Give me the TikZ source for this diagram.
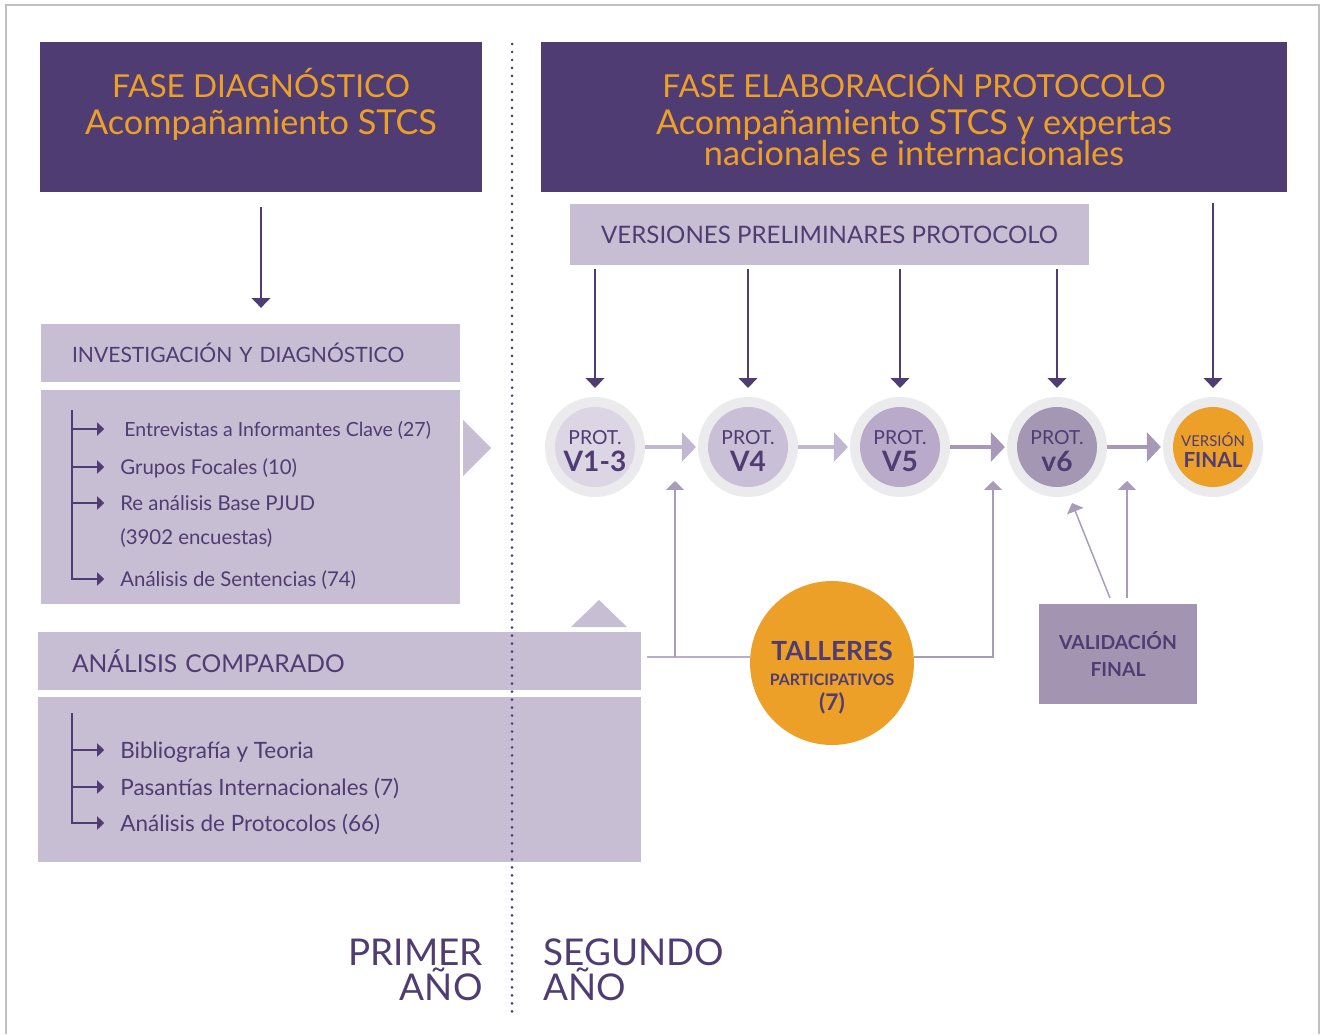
\documentclass[tikz,border=0pt]{standalone}
\usepackage{fontspec}
\setmainfont{Lato}
\usetikzlibrary{arrows.meta,positioning}

\definecolor{morado}{HTML}{4F3C72}
\definecolor{naranja}{HTML}{EDA028}
\definecolor{lila}{HTML}{C7BED3}
\definecolor{gris}{HTML}{EBEBEE}
\definecolor{lilaA}{HTML}{DCD5E3}
\definecolor{lilaB}{HTML}{C9BFD6}
\definecolor{lilaC}{HTML}{B8AAC8}
\definecolor{lilaD}{HTML}{A497B3}
\definecolor{valida}{HTML}{A395B2}
\definecolor{flechaA}{HTML}{C2B7D0}
\definecolor{flechaB}{HTML}{A798B8}
\definecolor{subida}{HTML}{A99CBB}
\definecolor{enlace}{HTML}{B9AECA}
\definecolor{marco}{HTML}{C0C0C0}

\tikzset{
  caja/.style={fill=lila, inner sep=0pt},
  cabecera/.style={fill=morado, inner sep=0pt, minimum height=3cm},
  titcab/.style={text=naranja, font=\fontsize{19.5}{20}\selectfont, anchor=base, inner sep=0pt},
  titulo/.style={text=morado, font=\fontsize{13.5}{15}\selectfont},
  itemA/.style={text=morado, font=\fontsize{11.6}{13}\selectfont, anchor=west, inner sep=0pt, text height=8.3pt, text depth=0pt},
  itemB/.style={text=morado, font=\fontsize{12.8}{13}\selectfont, anchor=west, inner sep=0pt, text height=9.2pt, text depth=0pt},
  rama/.style={morado, line width=0.8pt, -{Triangle[length=4pt,width=7.5pt]}, shorten >=9pt},
  baja/.style={morado, line width=0.85pt, -{Triangle[length=5.5pt,width=10.5pt]}},
  avance/.style={line width=2pt, -{Triangle[length=8pt,width=16.5pt]}, shorten >=1pt},
  sube/.style={subida, line width=0.85pt, -{Triangle[length=5pt,width=10pt]}},
  anillo/.style={circle, fill=gris, minimum size=2cm, inner sep=0pt},
  disco/.style={circle, minimum size=1.6cm, inner sep=0pt, text=morado, align=center, font=\fontsize{11}{15.4}\selectfont},
  anio/.style={text=morado, font=\fontsize{21}{21}\selectfont, inner sep=0pt},
}

\newcommand{\prot}[1]{\rule{0pt}{12.5pt}PROT.\\{\fontsize{16}{15.4}\selectfont\bfseries #1}}

\begin{document}
\begin{tikzpicture}[x=0.02cm, y=-0.02cm]
    \useasboundingbox (0,0) rectangle (1321,1034);
    \draw[marco, line width=1pt] (6,1034) -- (6,5) -- (1319,5) -- (1319,1034);

    % cabeceras
    \node[cabecera, minimum width=8.84cm] (hizq) at (261,117) {};
    \node[titcab, font=\fontsize{18}{20}\selectfont] (h1) at (261,97) {FASE DIAGNÓSTICO};
    \node[titcab] (h2) at (261,134) {Acompañamiento STCS};

    \node[cabecera, minimum width=14.92cm] (hder) at (914,117) {};
    \node[titcab, font=\fontsize{18}{20}\selectfont] (h3) at (914,97) {FASE ELABORACIÓN PROTOCOLO};
    \node[titcab] (h4) at (914,134) {Acompañamiento STCS y expertas};
    \node[titcab] (h5) at (914,165) {nacionales e internacionales};

    % primer año
    \node[caja, titulo, font=\fontsize{12}{15}\selectfont, minimum width=8.38cm, minimum height=1.16cm, text width=7.14cm, inner xsep=0.62cm, align=left] (inv) at (250.5,353) {INVESTIGACIÓN Y DIAGNÓSTICO};
    \node[caja, minimum width=8.38cm, minimum height=4.28cm] (lst1) at (250.5,497) {};
    \fill[lila] (463,420) -- (491,448) -- (463,476) -- cycle;

    \node[itemA, font=\fontsize{11.1}{13}\selectfont] (e1) at (124,429) {Entrevistas a Informantes Clave (27)};
    \node[itemA] (e2) at (120,467) {Grupos Focales (10)};
    \node[itemA] (e3) at (120,503) {Re análisis Base PJUD};
    \node[itemA] (e3b) at (120,537) {(3902 encuestas)};
    \node[itemA] (e4) at (120,579) {Análisis de Sentencias (74)};
    \coordinate (t1) at (72,410);
    \draw[rama] (t1) |- (e4.west);
    \foreach \e in {e2,e3}
        \draw[rama] (t1 |- \e.west) -- (\e.west);
    \draw[rama, shorten >=11.3pt] (t1 |- e1.west) -- (e1.west);

    \node[caja, titulo, font=\fontsize{14}{15}\selectfont, minimum width=12.06cm, minimum height=1.16cm, text width=10.7cm, inner xsep=0.68cm, align=left] (comp) at (339.5,661) {ANÁLISIS COMPARADO};
    \node[caja, minimum width=12.06cm, minimum height=3.3cm] (lst2) at (339.5,779.5) {};
    \fill[lila] (571,627) -- (599,600) -- (627,627) -- cycle;

    \node[itemB] (b1) at (120,750) {Bibliografía y Teoria};
    \node[itemB] (b2) at (120,787) {Pasantías Internacionales (7)};
    \node[itemB] (b3) at (120,823) {Análisis de Protocolos (66)};
    \coordinate (t2) at (72,713);
    \draw[rama] (t2) |- (b3.west);
    \foreach \e in {b1,b2}
        \draw[rama] (t2 |- \e.west) -- (\e.west);

    \draw[baja, shorten <=8.5pt, shorten >=9pt] (hizq.south) -- (hizq.south |- inv.north);

    % segundo año
    \node[caja, titulo, font=\fontsize{13.7}{15}\selectfont, minimum width=10.38cm, minimum height=1.22cm] (vers) at (829.5,234.5) {VERSIONES PRELIMINARES PROTOCOLO};

    \node[anillo] (r1) at (595,447) {};
    \node[anillo] (r2) at (748,447) {};
    \node[anillo] (r3) at (900,447) {};
    \node[anillo] (r4) at (1057,447) {};
    \node[anillo] (r5) at (1213,447) {};
    \node[disco, fill=lilaA] (p1) at (r1) {\prot{V1-3}};
    \node[disco, fill=lilaB] (p2) at (r2) {\prot{V4}};
    \node[disco, fill=lilaC] (p3) at (r3) {\prot{V5}};
    \node[disco, fill=lilaD] (p4) at (r4) {\prot{v6}};
    \node[disco, fill=naranja] (p5) at (r5) {\rule{0pt}{11pt}{\fontsize{8.5}{12}\selectfont VERSIÓN}\\[-3.5pt]{\fontsize{11.8}{12}\selectfont\bfseries FINAL}};

    \foreach \r in {r1,r2,r3,r4}
        \draw[baja, shorten <=2.3pt, shorten >=5pt] (vers.south -| \r) -- (\r.north);
    \draw[baja, shorten <=6.3pt, shorten >=5pt] (hder.south -| r5) -- (r5.north);

    \draw[avance, flechaA] (r1) -- (r2);
    \draw[avance, flechaA] (r2) -- (r3);
    \draw[avance, flechaB] (r3) -- (r4);
    \draw[avance, flechaB] (r4) -- (r5);

    \node[circle, fill=naranja, minimum size=3.28cm, inner sep=0pt] (tall) at (832,663) {};
    \node[text=morado, align=center, inner sep=0pt, font=\fontsize{9}{14.2}\selectfont\bfseries] (tallt) at (832,678)
        {{\fontsize{15}{14.2}\selectfont TALLERES}\\PARTICIPATIVOS\\{\fontsize{13}{14.2}\selectfont (7)}};
    \node[fill=valida, minimum width=3.16cm, minimum height=2cm, inner sep=0pt, text=morado, align=center, font=\fontsize{11}{15.4}\selectfont\bfseries] (val) at (1118,654) {VALIDACIÓN\\FINAL};

    \coordinate (j0) at (647,657);
    \coordinate (s1) at (675,481);
    \coordinate (s2) at (993,481);
    \coordinate (s3) at (1127,481);
    \coordinate (s4) at (1072,503);
    \coordinate (v1) at (1110,598);
    \draw[enlace, line width=0.85pt] (tall.west |- j0) -- (j0);
    \draw[sube] (s1 |- j0) -- (s1);
    \draw[sube] (tall.east |- j0) -| (s2);
    \draw[sube, shorten <=3.4pt] (val.north -| s3) -- (s3);
    \draw[sube] (v1) -- (s4);

    % años
    \node[anio, anchor=base east] (pa) at (483,965) {PRIMER};
    \node[anio, anchor=base east] (pb) at (483,1000) {AÑO};
    \node[anio, anchor=base west] (sa) at (543,965) {SEGUNDO};
    \node[anio, anchor=base west] (sb) at (543,1000) {AÑO};

    \draw[morado, line width=1.7pt, line cap=round, dash pattern=on 0pt off 4.55pt] (512,44) -- (512,1018);
\end{tikzpicture}
\end{document}
